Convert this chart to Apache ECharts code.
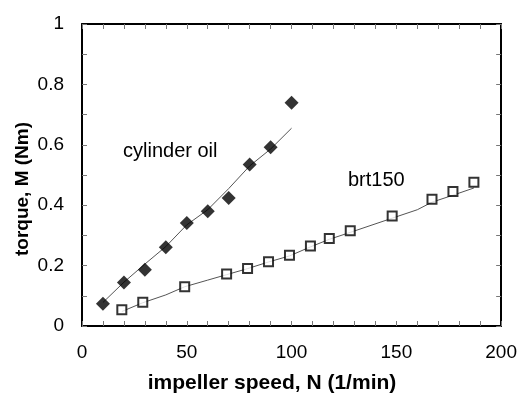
<!DOCTYPE html>
<html>
<head>
<meta charset="utf-8">
<script src="https://cdn.jsdelivr.net/npm/echarts@6/dist/echarts.min.js"></script>
<style>
  html, body { margin: 0; padding: 0; background: #fff; }
  #chart { width: 520px; height: 394px; }
</style>
</head>
<body>
<div id="chart"></div>
<script>
// values
const oilN = [10, 20, 30, 40, 50, 60, 70, 80, 90, 100];
const oilM = [0.074, 0.144, 0.186, 0.261, 0.341, 0.380, 0.424, 0.535, 0.592, 0.739];
const oilFit = [0.078, 0.145, 0.205, 0.263, 0.335, 0.385, 0.455, 0.530, 0.586, 0.655];

const brtN = [19, 29, 49, 69, 79, 89, 99, 109, 118, 128, 148, 167, 177, 187];
const brtM = [0.054, 0.079, 0.130, 0.172, 0.190, 0.213, 0.234, 0.265, 0.290, 0.315, 0.364, 0.420, 0.445, 0.476];
const brtFitN = [19, 29, 40, 49, 60, 69, 79, 89, 99, 109, 118, 128, 148, 160, 167, 177, 187];
const brtFitM = [0.048, 0.077, 0.103, 0.130, 0.152, 0.170, 0.190, 0.212, 0.232, 0.262, 0.287, 0.310, 0.357, 0.385, 0.410, 0.433, 0.457];

const xTickLabels = [0, 50, 100, 150, 200];
const yTickLabels = [0, 0.2, 0.4, 0.6, 0.8, 1];

const font = 'Liberation Sans, Arial, sans-serif';

const chart = echarts.init(document.getElementById('chart'));

const pair = (xs, ys) => xs.map((x, i) => [x, ys[i]]);
const round1 = v => parseFloat(v.toFixed(1));

const axisLine = { show: true, onZero: false, lineStyle: { color: '#000', width: 2 } };
const axisTick = { show: true, inside: true, length: 5, lineStyle: { color: '#777', width: 1 } };

const xBase = {
    type: 'value', min: 0, max: 200, interval: 10,
    axisLine: axisLine, axisTick: axisTick, splitLine: { show: false }
};
const yBase = {
    type: 'value', min: 0, max: 1, interval: 0.1,
    axisLine: axisLine, axisTick: axisTick, splitLine: { show: false }
};

const option = {
    animation: false,
    backgroundColor: '#fff',
    grid: { left: 82, right: 18, top: 24, bottom: 68 },
    xAxis: [
        Object.assign({}, xBase, {
            position: 'bottom',
            axisLabel: {
                margin: 17, fontSize: 19, color: '#000', fontFamily: font,
                formatter: v => xTickLabels.includes(v) ? String(v) : ''
            }
        }),
        Object.assign({}, xBase, { position: 'top', axisLabel: { show: false } })
    ],
    yAxis: [
        Object.assign({}, yBase, {
            position: 'left',
            axisLabel: {
                margin: 18, fontSize: 19, color: '#000', fontFamily: font,
                formatter: v => yTickLabels.includes(round1(v)) ? String(round1(v)) : ''
            }
        }),
        Object.assign({}, yBase, { position: 'right', axisLabel: { show: false } })
    ],
    series: [
        {
            name: 'cylinder oil fit', type: 'line', data: pair(oilN, oilFit),
            symbol: 'none', lineStyle: { color: '#555', width: 1 }, z: 2
        },
        {
            name: 'brt150 fit', type: 'line', data: pair(brtFitN, brtFitM),
            symbol: 'none', lineStyle: { color: '#555', width: 1 }, z: 2
        },
        {
            name: 'cylinder oil', type: 'scatter', data: pair(oilN, oilM),
            symbol: 'diamond', symbolSize: 14,
            itemStyle: { color: '#000' }, z: 3
        },
        {
            name: 'brt150', type: 'scatter', data: pair(brtN, brtM),
            symbol: 'rect', symbolSize: 9,
            itemStyle: { color: '#fff', borderColor: '#000', borderWidth: 2 }, z: 3
        }
    ],
    graphic: [
        {
            type: 'text', left: 123, top: 141,
            style: { text: 'cylinder oil', fontSize: 20, fontFamily: font, fill: '#000' }
        },
        {
            type: 'text', left: 348, top: 170,
            style: { text: 'brt150', fontSize: 20, fontFamily: font, fill: '#000' }
        },
        {
            type: 'text', x: 272, y: 383,
            style: {
                text: 'impeller speed, N (1/min)', fontSize: 21, fontWeight: 'bold',
                fontFamily: font, fill: '#000', align: 'center', verticalAlign: 'middle'
            }
        },
        {
            type: 'text', x: 23, y: 189, rotation: Math.PI / 2,
            style: {
                text: 'torque, M (Nm)', fontSize: 19, fontWeight: 'bold',
                fontFamily: font, fill: '#000', align: 'center', verticalAlign: 'middle'
            }
        }
    ]
};

chart.setOption(option);
</script>
</body>
</html>
